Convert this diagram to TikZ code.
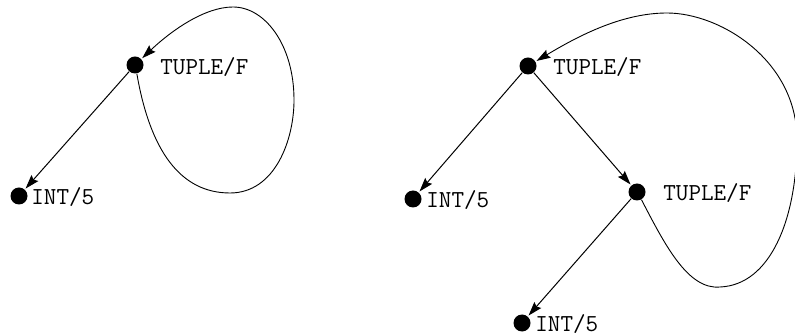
\documentclass[tikz,border=0pt]{standalone}
\usetikzlibrary{arrows.meta}
\tikzstyle{vertex}=[circle, fill=black, inner sep=0pt, minimum size=8.5pt]
\tikzstyle{tag}=[anchor=west, inner sep=0pt, font=\ttfamily\fontsize{12.2}{14}\selectfont]
\tikzstyle{edge}=[draw, line width=0.5pt, -{Stealth[length=7pt,width=4.5pt,inset=1pt]}, shorten >=0.5pt]
\tikzstyle{loop}=[draw, line width=0.45pt, -{Stealth[length=7pt,width=4.5pt,inset=1pt]}, shorten >=0.5pt]

\begin{document}
\begin{tikzpicture}[x=0.5pt,y=-0.5pt]
 	\useasboundingbox (0,0) rectangle (795,335);
 	\node[vertex] (ltup) at (135,65) {};
 	\node[vertex] (lint) at (19,196) {};
 	\node[tag] (ltupl) at (160,67) {TUPLE/F};
 	\node[tag] (lintl) at (31,197) {INT/5};
 	\path[edge] (ltup) -- (lint);
 	\path[loop] (ltup.-78) .. controls (150,150) and (180,193) .. (230,193)
 		.. controls (275,193) and (294,140) .. (294,100)
 		.. controls (294,45) and (265,7) .. (233,7)
 		.. controls (205,7) and (172,30) .. (ltup);
 	\node[vertex] (rtup) at (528,66) {};
 	\node[vertex] (rint) at (413,199) {};
 	\node[vertex] (rsub) at (637,192) {};
 	\node[vertex] (rbot) at (522,323) {};
 	\node[tag] (rtupl) at (553,67) {TUPLE/F};
 	\node[tag] (rintl) at (426,200) {INT/5};
 	\node[tag] (rsubl) at (663,193) {TUPLE/F};
 	\node[tag] (rbotl) at (535,324) {INT/5};
 	\path[edge] (rtup) -- (rint);
 	\path[edge] (rtup) -- (rsub);
 	\path[edge] (rsub) -- (rbot);
 	\path[loop] (rsub.-60) .. controls (665,245) and (688,290) .. (720,287)
 		.. controls (770,285) and (797,220) .. (797,140)
 		.. controls (797,60) and (720,13) .. (667,13)
 		.. controls (620,13) and (575,38) .. (rtup);
\end{tikzpicture}
\end{document}
